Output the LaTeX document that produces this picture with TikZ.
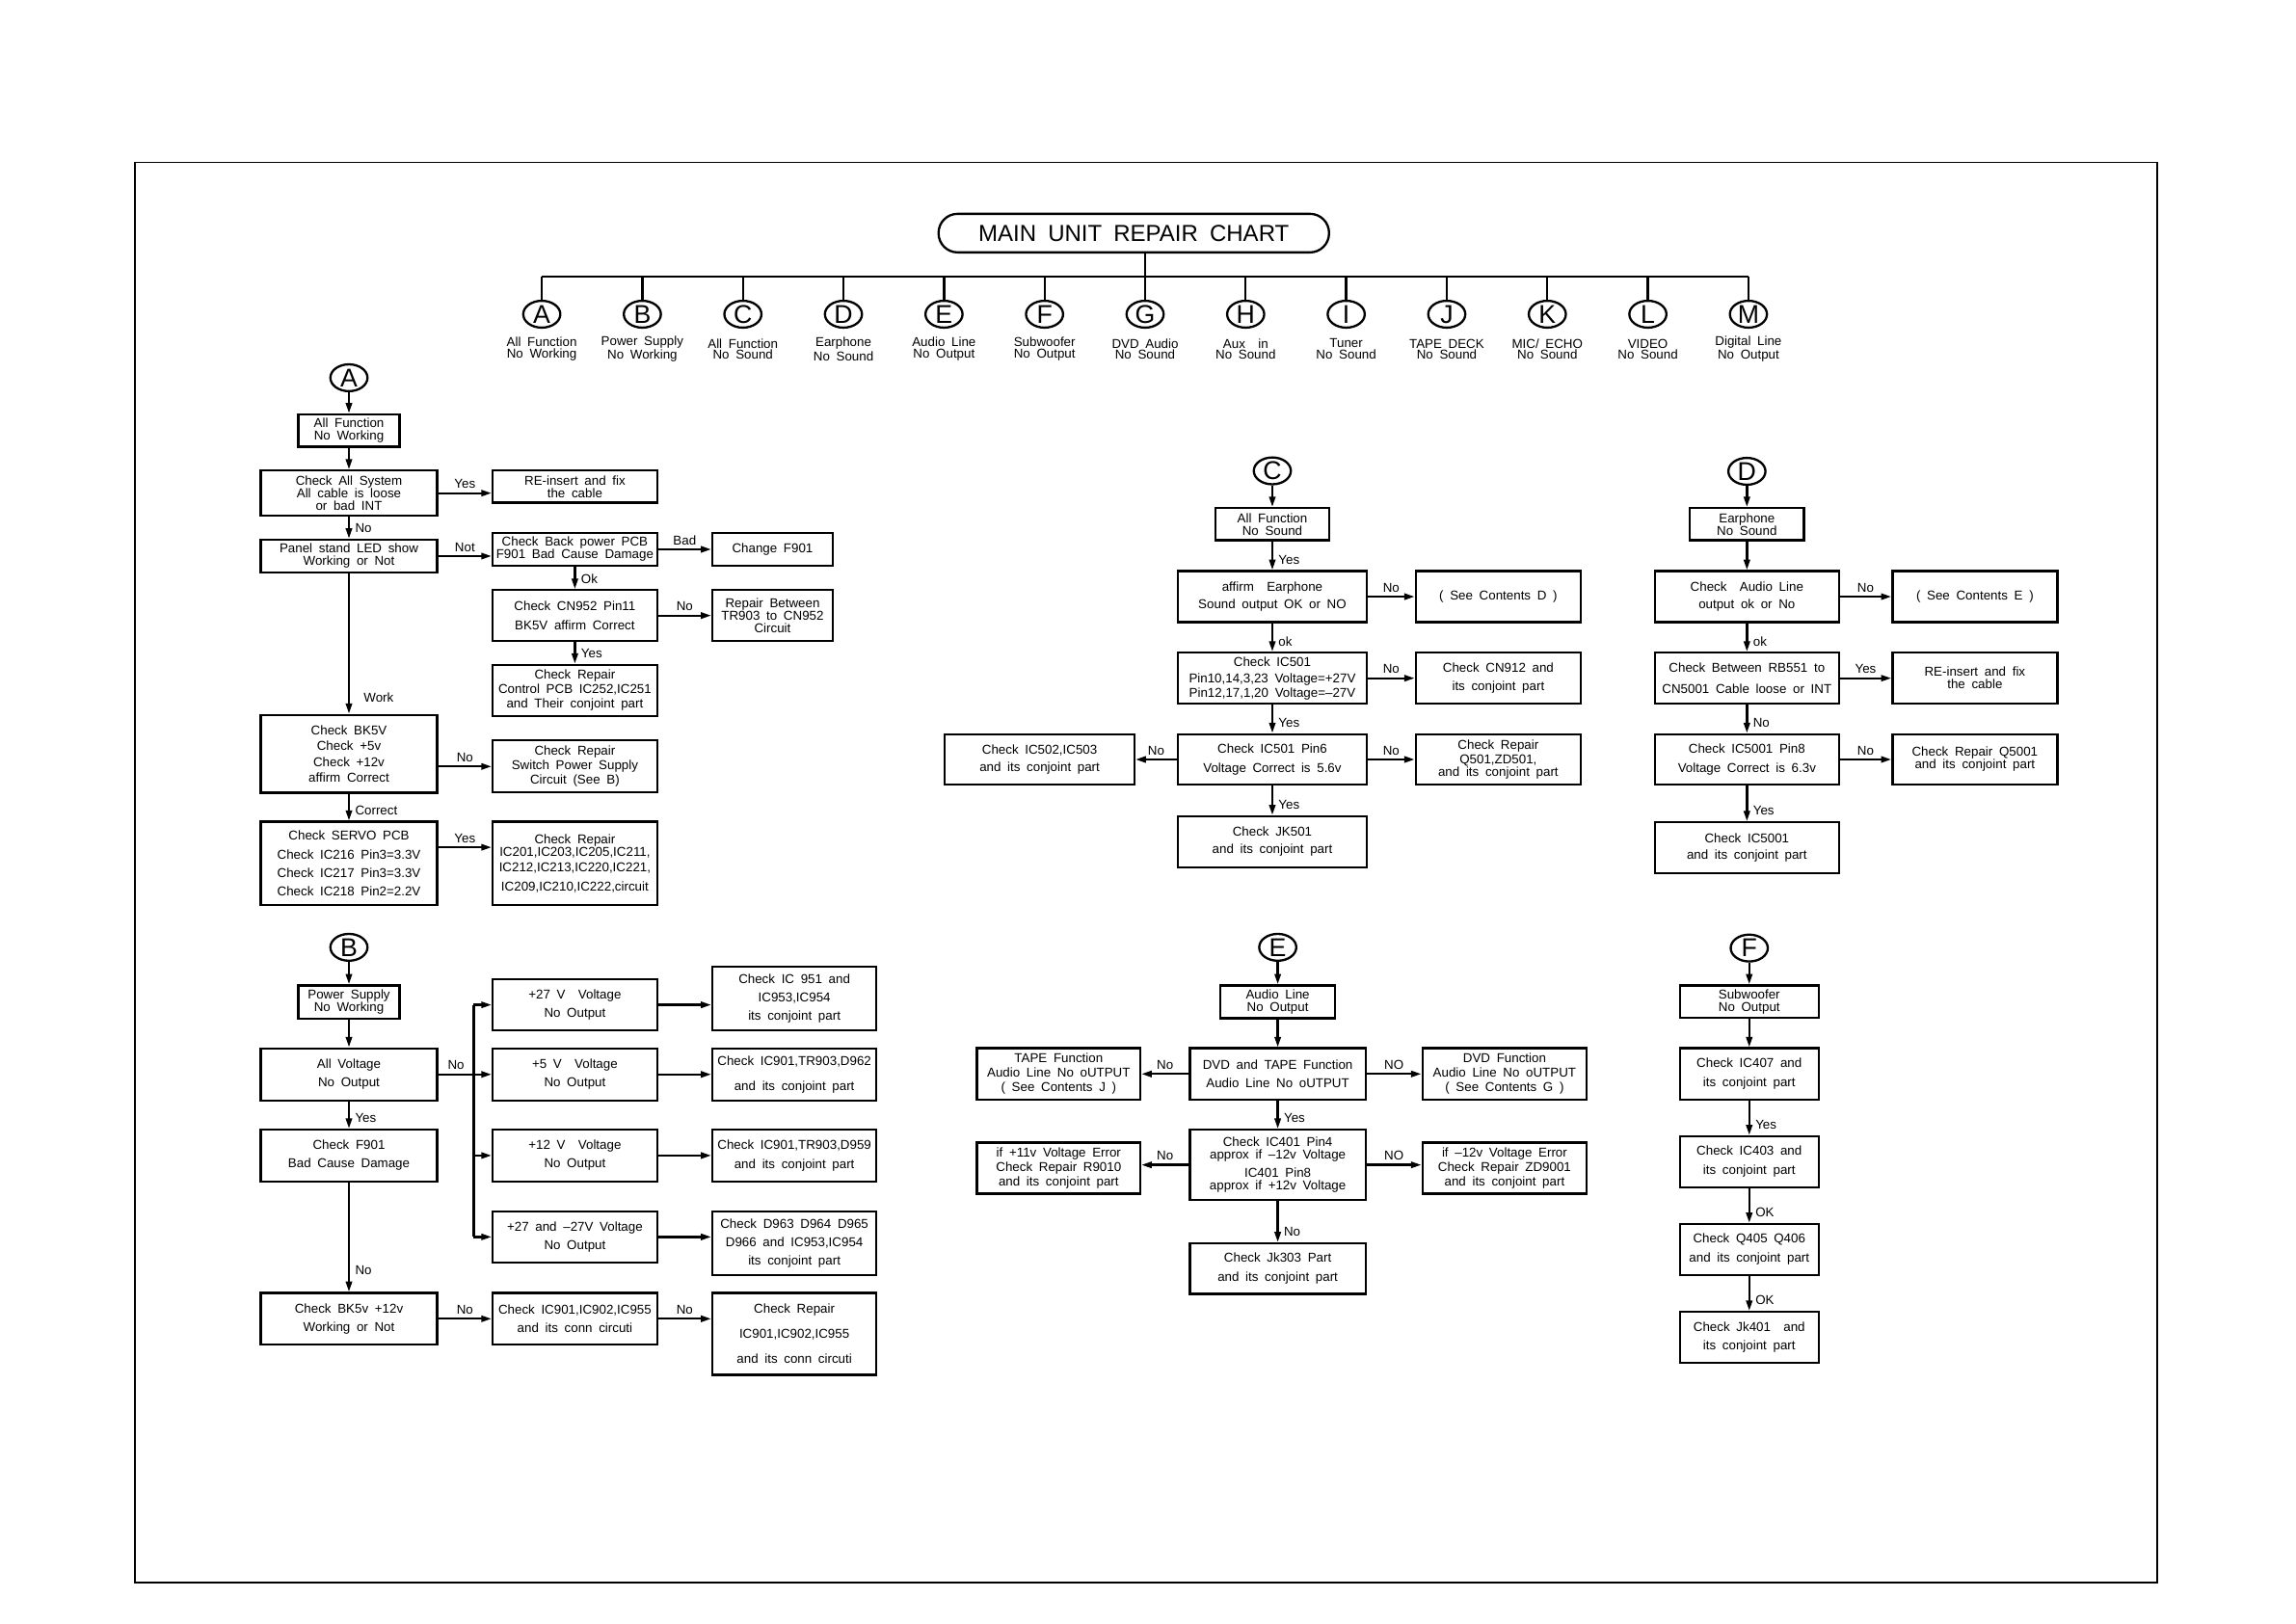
\documentclass[tikz,border=0pt]{standalone}
\usepackage{fontspec}
\setmainfont{Liberation Sans}[WordSpace=1.8]
\usetikzlibrary{arrows.meta,positioning,shapes.geometric}

\begin{document}
\begin{tikzpicture}[
    x=0.03cm, y=-0.03cm,
    every node/.style={font=\fontsize{7.5pt}{7.3pt}\selectfont, align=center},
    chkbox/.style={draw, rectangle, line width=1.3pt, inner sep=1pt},
    sz/.style 2 args={minimum width=#1*0.03cm, minimum height=#2*0.03cm},
    ttlbox/.style={draw, rectangle, rounded corners=0.39cm, line width=1.3pt,
                   minimum width=8.0cm, minimum height=0.79cm,
                   font=\fontsize{13.5pt}{14pt}\selectfont},
    lettr/.style={draw, ellipse, line width=1.3pt, inner sep=0pt,
                  minimum width=0.76cm, minimum height=0.55cm,
                  font=\fontsize{15pt}{15pt}\selectfont},
    toplab/.style={font=\fontsize{7.5pt}{6.6pt}\selectfont, inner sep=0pt},
    link/.style={line width=1.3pt},
    arrow/.style={-{Triangle[length=6pt,width=3.6pt]}, line width=1.3pt},
    vl/.style={pos=1, anchor=west, yshift=6pt, xshift=1.5pt, inner sep=1.5pt},
    hl/.style={midway, above, inner sep=2pt}
]
\useasboundingbox (0,0) rectangle (1568,1109);
\draw[line width=0.9pt] (92,111) rectangle (1473,1081);

\node[ttlbox] (title) at (774.3,159.2) {MAIN UNIT REPAIR CHART};
\coordinate (tbus) at (370,189);
\foreach \l/\txt [count=\i from 0] in {
    A/{All Function\\No Working}, B/{Power Supply\\No Working},
    C/{All Function\\No Sound}, D/{Earphone\\No Sound},
    E/{Audio Line\\No Output}, F/{Subwoofer\\No Output},
    G/{DVD Audio\\No Sound}, H/{Aux~~in\\No Sound},
    I/{Tuner\\No Sound}, J/{TAPE DECK\\No Sound},
    K/{MIC/ ECHO\\No Sound}, L/{VIDEO\\No Sound},
    M/{Digital Line\\No Output}}{
    \node[lettr] (t\l) at (370+68.67*\i,214.6) {\l};
    \node[toplab] (tl\l) at (370+68.67*\i,238.5) {\txt};
}
\draw[link] (title.south -| tG) -- (tbus -| tG);
\draw[link] (tbus -| tA) -- (tbus -| tM);
\foreach \l in {A,...,M}
    \draw[link] (tbus -| t\l) -- (t\l.north);

\node[lettr] (cA) at (238.3,258) {A};
\node[chkbox, sz={69.2}{22}] (hdrA) at (238.3,294) {All Function\\No Working};
\node[chkbox, sz={120.6}{30.8}] (chkall) at (238.3,336.8) {Check All System\\All cable is loose\\or bad INT};
\node[chkbox, sz={112.3}{21.9}] (reins) at (392.6,332.4) {RE-insert and fix\\the cable};
\node[chkbox, sz={120.6}{22.4}] (panel) at (238.3,379.8) {Panel stand LED show\\Working or Not};
\node[chkbox, sz={112.3}{22.8}] (backpw) at (392.6,375.2) {Check Back power PCB\\F901 Bad Cause Damage};
\node[chkbox, sz={82.3}{22.8}] (chgF901) at (527.6,375.2) {Change F901};
\node[chkbox, sz={112.3}{34.7}] (cn952) at (392.6,420.4) {Check CN952 Pin11\\[3.5pt]BK5V affirm Correct};
\node[chkbox, sz={82.3}{34.7}] (repbetw) at (527.6,420.4) {Repair Between\\TR903 to CN952\\Circuit};
\node[chkbox, sz={112.3}{35}] (ctrlpcb) at (392.6,471.5) {Check Repair\\[1pt]Control PCB IC252,IC251\\[1pt]and Their conjoint part};
\node[chkbox, sz={120.6}{53.1}] (bk5v) at (238.3,514.8) {Check BK5V\\[2pt]Check +5v\\[2pt]Check +12v\\[2pt]affirm Correct};
\node[chkbox, sz={112.3}{35.6}] (swps) at (392.6,523.5) {Check Repair\\[1pt]Switch Power Supply\\[1pt]Circuit (See B)};
\node[chkbox, sz={120.6}{56.9}] (servo) at (238.3,589.7) {Check SERVO PCB\\[3.5pt]Check IC216 Pin3=3.3V\\[3.5pt]Check IC217 Pin3=3.3V\\[3.5pt]Check IC218 Pin2=2.2V};
\node[chkbox, sz={112.3}{56.9}] (ic201) at (392.6,589.7) {Check Repair\\IC201,IC203,IC205,IC211,\\[2pt]IC212,IC213,IC220,IC221,\\[3.7pt]IC209,IC210,IC222,circuit};

\node[lettr] (cB) at (238.3,647) {B};
\node[chkbox, sz={69.2}{22.6}] (hdrB) at (238.3,684.3) {Power Supply\\No Working};
\node[chkbox, sz={120.6}{35.6}] (allv) at (238.3,733.8) {All Voltage\\[3.5pt]No Output};
\node[chkbox, sz={120.6}{35.3}] (f901) at (238.3,789.2) {Check F901\\[3.5pt]Bad Cause Damage};
\node[chkbox, sz={120.6}{35.3}] (bk5v12) at (238.3,900.7) {Check BK5v +12v\\[3.5pt]Working or Not};
\node[chkbox, sz={112.3}{34.7}] (v27) at (392.6,686.3) {+27 V~~Voltage\\[3.5pt]No Output};
\node[chkbox, sz={112.3}{35.6}] (v5) at (392.6,733.8) {+5 V~~Voltage\\[3.5pt]No Output};
\node[chkbox, sz={112.3}{35.3}] (v12) at (392.6,789.2) {+12 V~~Voltage\\[3.5pt]No Output};
\node[chkbox, sz={112.3}{35.1}] (v2727) at (392.6,844.8) {+27 and --27V Voltage\\[3.5pt]No Output};
\node[chkbox, sz={112.3}{35.3}] (ic902) at (392.6,900.7) {Check IC901,IC902,IC955\\[3.5pt]and its conn circuti};
\node[chkbox, sz={112.1}{43.7}] (ic951) at (542.5,681.9) {Check IC 951 and\\[3.5pt]IC953,IC954\\[3.5pt]its conjoint part};
\node[chkbox, sz={112.1}{35.6}] (d962) at (542.5,733.8) {Check IC901,TR903,D962\\[7.5pt]and its conjoint part};
\node[chkbox, sz={112.1}{35.3}] (d959) at (542.5,789.2) {Check IC901,TR903,D959\\[3.7pt]and its conjoint part};
\node[chkbox, sz={112.1}{43.7}] (d963) at (542.5,849.1) {Check D963 D964 D965\\[3.5pt]D966 and IC953,IC954\\[3.5pt]its conjoint part};
\node[chkbox, sz={112.1}{56}] (rep902) at (542.5,911) {Check Repair\\[7.3pt]IC901,IC902,IC955\\[7.3pt]and its conn circuti};

\node[lettr] (cC) at (868.9,321.6) {C};
\node[chkbox, sz={77.7}{22}] (hdrC) at (868.9,358) {All Function\\No Sound};
\node[chkbox, sz={128.9}{35}] (affirm) at (868.9,407.5) {affirm~~Earphone\\[2.8pt]Sound output OK or NO};
\node[chkbox, sz={112.7}{35}] (seeD) at (1023.2,407.5) {( See Contents D )};
\node[chkbox, sz={128.9}{34.9}] (ic501) at (868.9,463.2) {Check IC501\\[2.5pt]Pin10,14,3,23 Voltage=+27V\\[1pt]Pin12,17,1,20 Voltage=--27V};
\node[chkbox, sz={112.7}{34.9}] (cn912) at (1023.2,463.2) {Check CN912 and\\[3.5pt]its conjoint part};
\node[chkbox, sz={128.9}{34.6}] (pin6) at (868.9,518.7) {Check IC501 Pin6\\[3.7pt]Voltage Correct is 5.6v};
\node[chkbox, sz={129.5}{34.6}] (ic502) at (710,518.7) {Check IC502,IC503\\[2.8pt]and its conjoint part};
\node[chkbox, sz={112.7}{34.6}] (q501) at (1023.2,518.7) {Check Repair\\[1pt]Q501,ZD501,\\and its conjoint part};
\node[chkbox, sz={128.9}{35.1}] (jk501) at (868.9,575) {Check JK501\\[2.8pt]and its conjoint part};

\node[lettr] (cD) at (1193,321.9) {D};
\node[chkbox, sz={77.7}{22}] (hdrD) at (1193,358) {Earphone\\No Sound};
\node[chkbox, sz={125.5}{35}] (audline) at (1193,407.5) {Check~~Audio Line\\[2.8pt]output ok or No};
\node[chkbox, sz={112.6}{35}] (seeE) at (1348.7,407.5) {( See Contents E )};
\node[chkbox, sz={125.5}{34.9}] (rb551) at (1193,463.2) {Check Between RB551 to\\[5pt]CN5001 Cable loose or INT};
\node[chkbox, sz={112.6}{34.9}] (reinsD) at (1348.7,463.2) {RE-insert and fix\\the cable};
\node[chkbox, sz={125.5}{34.6}] (ic5001p8) at (1193,518.7) {Check IC5001 Pin8\\[3.9pt]Voltage Correct is 6.3v};
\node[chkbox, sz={112.6}{34.6}] (q5001) at (1348.7,518.7) {Check Repair Q5001\\and its conjoint part};
\node[chkbox, sz={125.5}{34.7}] (ic5001) at (1193,579) {Check IC5001\\[2pt]and its conjoint part};

\node[lettr] (cE) at (872.6,647) {E};
\node[chkbox, sz={78.2}{22.4}] (hdrE) at (872.6,684.2) {Audio Line\\No Output};
\node[chkbox, sz={120}{35.1}] (dvdtape) at (872.6,733.5) {DVD and TAPE Function\\[3.5pt]Audio Line No oUTPUT};
\node[chkbox, sz={111.5}{35.1}] (tapef) at (723,733.5) {TAPE Function\\[1pt]Audio Line No oUTPUT\\[1pt]( See Contents J )};
\node[chkbox, sz={112.2}{35.1}] (dvdf) at (1027.5,733.5) {DVD Function\\[1pt]Audio Line No oUTPUT\\[1pt]( See Contents G )};
\node[chkbox, sz={120}{47.9}] (ic401) at (872.6,795.6) {Check IC401 Pin4\\approx if --12v Voltage\\[3.3pt]IC401 Pin8\\approx if +12v Voltage};
\node[chkbox, sz={111.5}{34.7}] (p11v) at (723,797.8) {if +11v Voltage Error\\[1pt]Check Repair R9010\\[1pt]and its conjoint part};
\node[chkbox, sz={112.2}{34.7}] (m12v) at (1027.5,797.8) {if --12v Voltage Error\\[1pt]Check Repair ZD9001\\[1pt]and its conjoint part};
\node[chkbox, sz={120}{34.5}] (jk303) at (872.6,866.4) {Check Jk303 Part\\[3.7pt]and its conjoint part};

\node[lettr] (cF) at (1194.6,647.5) {F};
\node[chkbox, sz={94.8}{22}] (hdrF) at (1194.6,684) {Subwoofer\\No Output};
\node[chkbox, sz={94.8}{35.1}] (ic407) at (1194.6,733.5) {Check IC407 and\\[3.7pt]its conjoint part};
\node[chkbox, sz={94.8}{34.8}] (ic403) at (1194.6,793.4) {Check IC403 and\\[3.7pt]its conjoint part};
\node[chkbox, sz={94.8}{34.7}] (q405) at (1194.6,853.3) {Check Q405 Q406\\[3.7pt]and its conjoint part};
\node[chkbox, sz={94.8}{34.8}] (jk401) at (1194.6,913.4) {Check Jk401~~and\\[3.7pt]its conjoint part};

\foreach \a/\b/\t in {cA/hdrA/, hdrA/chkall/, chkall/panel/No, backpw/cn952/Ok,
    cn952/ctrlpcb/Yes, bk5v/servo/Correct,
    cB/hdrB/, hdrB/allv/, allv/f901/Yes,
    cC/hdrC/, hdrC/affirm/Yes, affirm/ic501/ok, ic501/pin6/Yes, pin6/jk501/Yes,
    cD/hdrD/, hdrD/audline/, audline/rb551/ok, rb551/ic5001p8/No, ic5001p8/ic5001/Yes,
    cE/hdrE/, hdrE/dvdtape/, dvdtape/ic401/Yes, ic401/jk303/No,
    cF/hdrF/, hdrF/ic407/, ic407/ic403/Yes, ic403/q405/OK, q405/jk401/OK}
    \draw[arrow] (\a.south) -- node[vl] {\t} (\b.north);
\draw[arrow] (panel.south) -- node[vl, yshift=3.5pt, xshift=5pt] {Work} (bk5v.north);
\draw[arrow] (f901.south) -- node[vl, yshift=6.5pt] {No} (bk5v12.north);

\foreach \a/\b/\t in {chkall/reins/Yes, panel/backpw/Not, backpw/chgF901/Bad, cn952/repbetw/No,
    v27/ic951/, v5/d962/, v12/d959/, v2727/d963/, bk5v12/ic902/No, ic902/rep902/No,
    affirm/seeD/No, ic501/cn912/No, pin6/q501/No,
    audline/seeE/No, rb551/reinsD/Yes, ic5001p8/q5001/No,
    dvdtape/dvdf/NO, ic401/m12v/NO}
    \draw[arrow] (\a.east) -- node[hl] {\t} (\a.east -| \b.west);
\foreach \a/\b/\t in {pin6/ic502/No, dvdtape/tapef/No, ic401/p11v/No}
    \draw[arrow] (\a.west) -- node[hl] {\t} (\a.west -| \b.east);
\draw[arrow] (swps.west -| bk5v.east) -- node[hl] {No} (swps.west);
\coordinate[yshift=9.4pt] (svy) at (servo.east);
\draw[arrow] (svy) -- node[hl] {Yes} (svy -| ic201.west);

\coordinate (bus) at (323.5,733.5);
\draw[link] (allv.east) -- node[hl] {No} (allv.east -| bus);
\draw[link] (bus |- v27.west) -- (bus |- v2727.west);
\foreach \b in {v27,v5,v12,v2727}
    \draw[arrow] (bus |- \b.west) -- (\b.west);
\end{tikzpicture}
\end{document}
